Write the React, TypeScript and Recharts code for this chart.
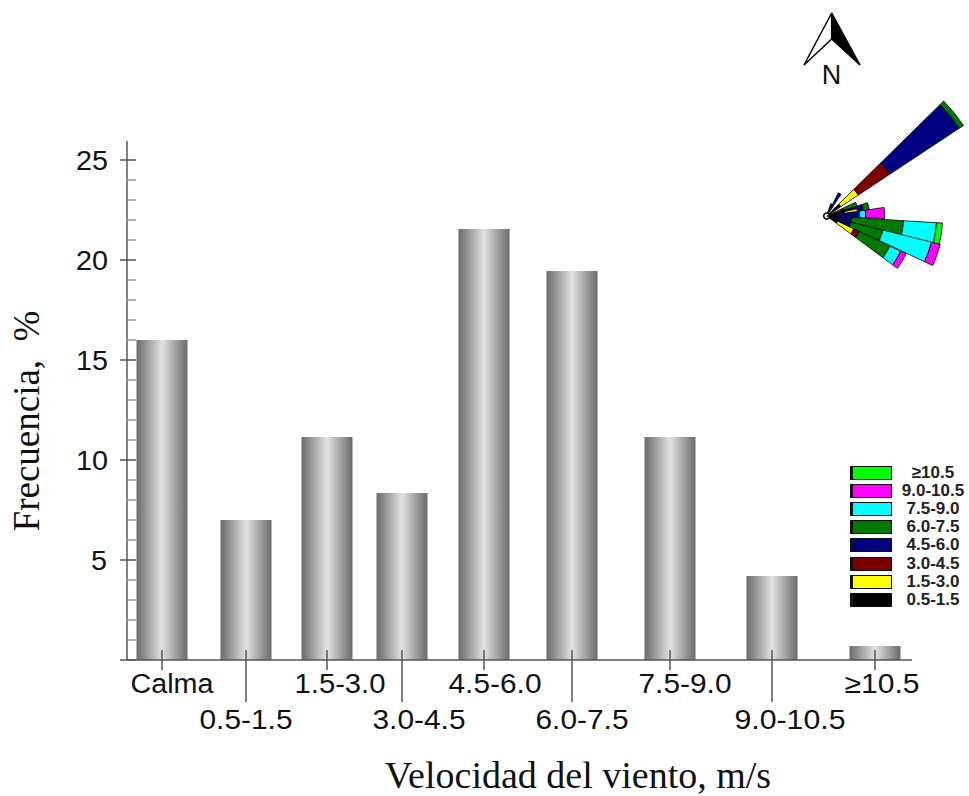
import { BarChart, Bar, XAxis, YAxis, PieChart, Pie } from 'recharts';

const categories = ['Calma', '0.5-1.5', '1.5-3.0', '3.0-4.5', '4.5-6.0', '6.0-7.5', '7.5-9.0', '9.0-10.5', '≥10.5'];
const frequency = [16, 7, 11.15, 8.35, 21.55, 19.45, 11.15, 4.2, 0.7];
// the original spaces its bars unevenly, so x is a number axis
const barSlots = [35, 119, 200, 275, 357, 445, 543, 645, 748];
const labelShift = [10, 0, 13, 17, 11, 10, 15, 18, 7];
const labelWidth = [83, 93, 91, 93, 93, 93, 93, 111, 75];
const yTicks = Array.from({ length: 26 }, (_, i) => i);

// wind rose: spoke direction and the stacked length of each speed band
const roseBands = ['0.5-1.5', '1.5-3.0', '3.0-4.5', '4.5-6.0', '6.0-7.5', '7.5-9.0', '9.0-10.5', '≥10.5'];
const roseColors = ['#000000', '#ffff00', '#7a0000', '#000080', '#007a00', '#00ffff', '#ff00ff', '#00ff00'];
const roseAngles = [39, 60, 68, 20, 13, 10, 3, -9, -19.5, -31];
const roseSpread = [5.5, 3.5, 4, 5.5, 5, 3.5, 5.5, 5.5, 5.5, 5.5];
const roseLengths = [
  [17, 21, 38, 83, 5, 0, 0, 0],
  [10, 0, 0, 16, 0, 0, 0, 0],
  [4, 0, 0, 9, 0, 0, 0, 0],
  [8, 0, 10, 0, 14, 0, 0, 0],
  [12, 0, 0, 25, 6, 0, 0, 0],
  [18, 13, 0, 0, 0, 0, 0, 0],
  [8, 0, 0, 25, 0, 6, 19, 0],
  [10, 0, 0, 15, 52, 33, 0, 6],
  [12, 0, 0, 13, 33, 50, 9, 0],
  [12, 18, 6, 0, 34, 12, 6, 0],
];

const legendLabels = ['≥10.5', '9.0-10.5', '7.5-9.0', '6.0-7.5', '4.5-6.0', '3.0-4.5', '1.5-3.0', '0.5-1.5'];
const legendColors = ['#00ff00', '#ff00ff', '#00ffff', '#007a00', '#000080', '#7a0000', '#ffff00', '#000000'];

const chartData = categories.map((name, i) => ({ name, slot: barSlots[i], frequency: frequency[i] }));

const AXIS = '#555';
const SANS = '"Liberation Sans", Arial, sans-serif';
const SERIF = '"Liberation Serif", "Times New Roman", serif';

function YTick({ x, y, payload }: any) {
  const major = payload.value % 5 === 0;
  return (
    <g>
      <line x1={major ? x - 7 : x} x2={x + 9} y1={y} y2={y} stroke={major ? AXIS : '#999'} strokeWidth={1.5} />
      {major && payload.value > 0 && (
        <text
          x={x - 51 + (payload.value === 5 ? 15 : 0)}
          y={y + 10}
          fontFamily={SANS}
          fontSize={27}
          fill="#111"
          textLength={payload.value === 5 ? 16 : 32}
          lengthAdjust="spacingAndGlyphs"
        >
          {payload.value}
        </text>
      )}
    </g>
  );
}

function XTick({ x, y, payload }: any) {
  const i = barSlots.indexOf(payload.value);
  const low = i % 2 === 1;
  const w = labelWidth[i];
  return (
    <g>
      <line x1={x} x2={x} y1={y - 10} y2={low ? y + 42 : y + 10} stroke={AXIS} strokeWidth={1.5} />
      <text
        x={x + labelShift[i] - w / 2}
        y={y + (low ? 69 : 33)}
        fontFamily={SANS}
        fontSize={27}
        fill="#111"
        textLength={w}
        lengthAdjust="spacingAndGlyphs"
      >
        {categories[i]}
      </text>
    </g>
  );
}

function WindRose() {
  const cx = 36.7;
  const cy = 126;
  return (
    <PieChart width={179} height={190} margin={{ top: 0, right: 0, bottom: 0, left: 0 }}>
      {roseAngles.map((angle, s) => {
        let r = 0;
        return roseLengths[s].map((len, b) => {
          const inner = r;
          r += len;
          if (!len) return null;
          return (
            <Pie
              key={`${s}-${b}`}
              data={[{ band: roseBands[b], value: 1 }]}
              dataKey="value"
              cx={cx}
              cy={cy}
              innerRadius={inner}
              outerRadius={inner + len}
              startAngle={angle - roseSpread[s]}
              endAngle={angle + roseSpread[s]}
              fill={roseColors[b]}
              stroke="#000"
              strokeWidth={0.8}
              isAnimationActive={false}
            />
          );
        });
      })}
      <Pie
        data={[{ value: 1 }]}
        dataKey="value"
        cx={cx}
        cy={cy}
        innerRadius={0}
        outerRadius={3}
        startAngle={0}
        endAngle={360}
        fill="#fff"
        stroke="#000"
        strokeWidth={1.5}
        isAnimationActive={false}
      />
    </PieChart>
  );
}

export default function App() {
  return (
    <div style={{ position: 'absolute', left: 0, top: 0, width: 969, height: 796, background: '#fff', overflow: 'hidden' }}>
      <BarChart
        width={969}
        height={796}
        data={chartData}
        margin={{ top: 141, right: 57, bottom: 135, left: 126 }}
      >
        <defs>
          <linearGradient id="barShade" x1="0" x2="1" y1="0" y2="0">
            <stop offset="0" stopColor="#6a6a6a" />
            <stop offset="0.5" stopColor="#e2e2e2" />
            <stop offset="1" stopColor="#6a6a6a" />
          </linearGradient>
        </defs>
        <Bar dataKey="frequency" fill="url(#barShade)" barSize={51} isAnimationActive={false} />
        <XAxis
          dataKey="slot"
          type="number"
          domain={[0, 785]}
          ticks={barSlots}
          interval={0}
          height={1}
          tick={XTick}
          tickLine={false}
          tickSize={0}
          tickMargin={0}
          axisLine={{ stroke: AXIS, strokeWidth: 1.5 }}
        />
        <YAxis
          type="number"
          domain={[0, 25.95]}
          ticks={yTicks}
          interval={0}
          width={1}
          tick={YTick}
          tickLine={false}
          tickSize={0}
          tickMargin={0}
          axisLine={{ stroke: AXIS, strokeWidth: 1.5 }}
        />
        <text x={578} y={788} textAnchor="middle" fontFamily={SERIF} fontSize={38} fill="#111">
          Velocidad del viento, m/s
        </text>
        <text
          transform="translate(39 421) rotate(-90)"
          textAnchor="middle"
          fontFamily={SERIF}
          fontSize={37}
          fill="#111"
          xmlSpace="preserve"
        >
          Frecuencia,  %
        </text>
        {/* north arrow */}
        <polygon points="831.7,13 804,65 831.7,39" fill="#fff" stroke="#000" strokeWidth={1.5} />
        <polygon points="831.7,13 860,65 831.7,39" fill="#000" stroke="#000" strokeWidth={1.5} />
        <text x={831.5} y={84} textAnchor="middle" fontFamily={SANS} fontSize={27} fill="#111">N</text>
      </BarChart>

      <div style={{ position: 'absolute', left: 790, top: 90 }}>
        <WindRose />
      </div>

      <div style={{ position: 'absolute', left: 850, top: 464, width: 119, fontFamily: SANS, fontSize: 17, fontWeight: 700, color: '#222' }}>
        {legendLabels.map((label, i) => (
          <div key={label} style={{ display: 'flex', alignItems: 'center', height: 18.1 }}>
            <span style={{ width: 38, height: 12, background: legendColors[i], border: '1.5px solid #111', borderLeftWidth: 3, flex: 'none' }} />
            <span style={{ width: 76, marginLeft: 5, textAlign: 'center', whiteSpace: 'nowrap' }}>{label}</span>
          </div>
        ))}
      </div>
    </div>
  );
}
